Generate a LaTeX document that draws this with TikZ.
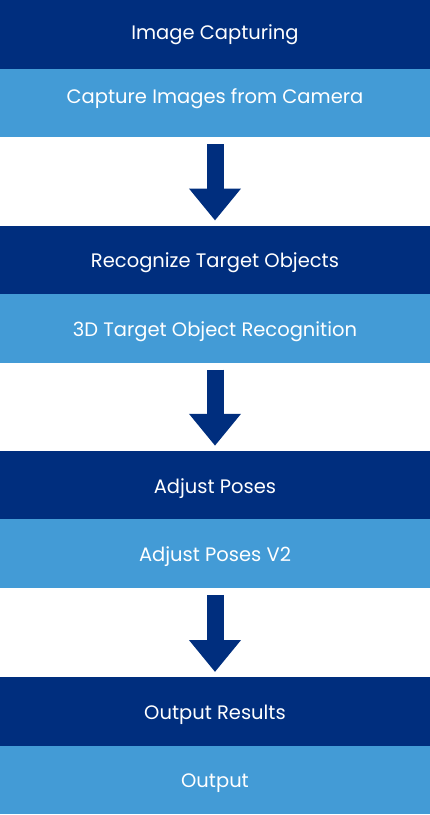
\documentclass[tikz,border=0pt]{standalone}
\usepackage{fontspec}
\setmainfont{Poppins}
\usepackage{tikz}
\usetikzlibrary{arrows.meta,positioning}

\definecolor{bardark}{RGB}{0,46,126}
\definecolor{barlight}{RGB}{67,155,214}

\begin{document}
\begin{tikzpicture}[
        x = 1pt,
        y = -1pt,
        bar/.style = {minimum width=430pt, minimum height=68.5pt, inner sep=0pt,
            outer sep=0pt, text=white, text height=16pt, text depth=0pt,
            font=\fontsize{19.5}{23}\selectfont},
        head/.style = {bar, fill=bardark},
        sub/.style = {bar, fill=barlight},
        flow/.style = {bardark, line width=17pt, shorten <=7pt, shorten >=5pt,
            -{Triangle[width=50pt, length=32pt]}}
        ]
        \useasboundingbox (0, 0) rectangle (430, 815);
        % block 1
        \node[head, text depth=6pt] (capturing) at (215, 34.25) {Image Capturing};
        \node[sub, text depth=14pt, below=0pt of capturing] (camera) {Capture Images from Camera};
        % block 2
        \node[head] (recognize) at (215, 259.75) {Recognize Target Objects};
        \node[sub, below=0pt of recognize] (recognition) {3D Target Object Recognition};
        % block 3
        \node[head] (adjust) at (215, 485) {Adjust Poses};
        \node[sub, below=0pt of adjust] (adjusttwo) {Adjust Poses V2};
        % block 4
        \node[head] (results) at (215, 711.25) {Output Results};
        \node[sub, below=0pt of results] (output) {Output};
        % arrows
        \draw[flow] (camera.south) -- (recognize.north);
        \draw[flow] (recognition.south) -- (adjust.north);
        \draw[flow] (adjusttwo.south) -- (results.north);
    \end{tikzpicture}
\end{document}
